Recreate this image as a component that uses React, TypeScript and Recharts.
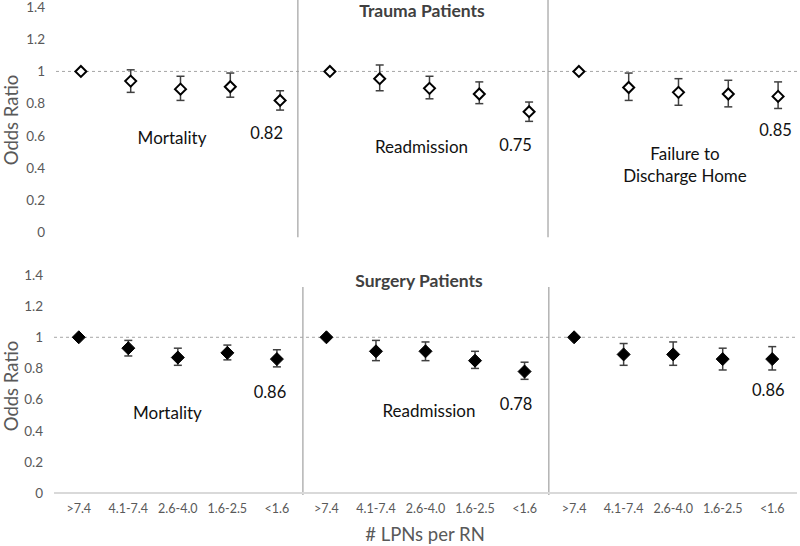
import React from 'react';
import { ComposedChart, Scatter, ErrorBar, XAxis, YAxis, ReferenceLine, ReferenceDot } from 'recharts';

const categories = ['>7.4', '4.1-7.4', '2.6-4.0', '1.6-2.5', '<1.6'];
const yTicks = [0, 0.2, 0.4, 0.6, 0.8, 1, 1.2, 1.4];

// Trauma patients: Mortality, Readmission, Failure to Discharge Home
const traumaOR = [1, 0.94, 0.89, 0.905, 0.82, 1, 0.955, 0.895, 0.86, 0.75, 1, 0.9, 0.87, 0.86, 0.845];
const traumaLow = [null, 0.87, 0.82, 0.84, 0.76, null, 0.88, 0.83, 0.8, 0.69, null, 0.82, 0.79, 0.78, 0.77];
const traumaHigh = [null, 1.01, 0.97, 0.99, 0.88, null, 1.04, 0.97, 0.935, 0.81, null, 0.99, 0.955, 0.945, 0.935];

// Surgery patients
const surgeryOR = [1, 0.93, 0.87, 0.9, 0.86, 1, 0.91, 0.91, 0.85, 0.78, 1, 0.89, 0.89, 0.86, 0.86];
const surgeryLow = [null, 0.88, 0.82, 0.855, 0.81, null, 0.85, 0.85, 0.8, 0.73, null, 0.82, 0.82, 0.79, 0.79];
const surgeryHigh = [null, 0.98, 0.93, 0.95, 0.92, null, 0.98, 0.97, 0.91, 0.84, null, 0.96, 0.97, 0.93, 0.94];

const traumaNotes = [
  { text: 'Mortality', x: 2.83, y: 0.587, word: true },
  { text: '0.82', x: 4.73, y: 0.617, word: false },
  { text: 'Readmission', x: 7.84, y: 0.532, word: true },
  { text: '0.75', x: 9.73, y: 0.544, word: false },
  { text: 'Failure to', x: 13.13, y: 0.489, word: true },
  { text: 'Discharge Home', x: 13.13, y: 0.355, word: true },
  { text: '0.85', x: 14.95, y: 0.636, word: false },
];
const surgeryNotes = [
  { text: 'Mortality', x: 2.79, y: 0.516, word: true },
  { text: '0.86', x: 4.86, y: 0.651, word: false },
  { text: 'Readmission', x: 8.07, y: 0.533, word: true },
  { text: '0.78', x: 9.83, y: 0.572, word: false },
  { text: '0.86', x: 14.92, y: 0.662, word: false },
];

const FONT = 'Lato, "Open Sans", sans-serif';

function buildRows(or: number[], lo: (number | null)[], hi: (number | null)[]) {
  return or.map((v, i) => ({
    x: i + 1,
    or: v,
    err: lo[i] == null || hi[i] == null ? null : [v - (lo[i] as number), (hi[i] as number) - v],
  }));
}

const traumaRows = buildRows(traumaOR, traumaLow, traumaHigh);
const surgeryRows = buildRows(surgeryOR, surgeryLow, surgeryHigh);

const fmt = (v: number) => (v === 0 ? '0' : v === 1 ? '1' : v.toFixed(1));

const makeDiamond = (filled: boolean) => (props: any) => {
  const { cx, cy } = props;
  if (cx == null || cy == null) return <g />;
  const r = filled ? 6.5 : 5.5;
  return (
    <path
      d={`M${cx},${cy - r}L${cx + r},${cy}L${cx},${cy + r}L${cx - r},${cy}Z`}
      fill={filled ? '#000' : '#fff'}
      stroke="#000"
      strokeWidth={filled ? 1 : 2}
    />
  );
};

const noteShape = (text: string, word: boolean) => (props: any) => (
  <text
    x={props.cx}
    y={props.cy}
    textAnchor="middle"
    dominantBaseline="central"
    fontFamily={FONT}
    fontSize={word ? 17 : 16.5}
    fill="#111"
  >
    {text}
  </text>
);

const titleStyle: React.CSSProperties = {
  position: 'absolute', width: 200, textAlign: 'center', fontFamily: FONT, fontWeight: 700,
  fontSize: 17.5, color: '#404040', lineHeight: '20px',
};

const yTitleStyle: React.CSSProperties = {
  position: 'absolute', left: -60, top: -11, width: 120, textAlign: 'center', transform: 'rotate(-90deg)',
  fontFamily: FONT, fontSize: 18.5, color: '#595959', lineHeight: '22px', whiteSpace: 'nowrap',
};

export default function App() {
  return (
    <div style={{ position: 'absolute', left: 0, top: 0, width: 800, height: 546, background: '#fff', overflow: 'hidden' }}>
      <div style={{ position: 'absolute', left: 0, top: 0 }}>
        <ComposedChart width={800} height={240} data={traumaRows} margin={{ top: 7, right: 0, bottom: 7.5, left: 0 }}>
          <XAxis type="number" dataKey="x" domain={[0.5, 15.44]} hide />
          <YAxis
            type="number"
            domain={[0, 1.4]}
            ticks={yTicks}
            tickFormatter={fmt}
            width={56}
            axisLine={false}
            tickLine={false}
            tickMargin={5}
            tick={{ fill: '#595959', fontSize: 13.5, fontFamily: FONT }}
            interval={0}
          />
          <ReferenceLine y={1} stroke="#a6a6a6" strokeDasharray="3 3" />
          <ReferenceLine
            segment={[{ x: 5.357, y: -0.03 }, { x: 5.357, y: 1.46 }]}
            stroke="#a0a0a0"
            strokeWidth={1.2}
            ifOverflow="visible"
          />
          <ReferenceLine
            segment={[{ x: 10.38, y: -0.03 }, { x: 10.38, y: 1.46 }]}
            stroke="#a0a0a0"
            strokeWidth={1.2}
            ifOverflow="visible"
          />
          <Scatter dataKey="or" shape={makeDiamond(false)} isAnimationActive={false}>
            <ErrorBar dataKey="err" direction="y" width={4} stroke="#404040" strokeWidth={1.5} />
          </Scatter>
          {traumaNotes.map((n, i) => (
            <ReferenceDot key={i} x={n.x} y={n.y} r={0} shape={noteShape(n.text, n.word)} ifOverflow="visible" />
          ))}
        </ComposedChart>
      </div>
      <div style={{ position: 'absolute', left: 0, top: 260 }}>
        <ComposedChart width={800} height={286} data={surgeryRows} margin={{ top: 15, right: 3, bottom: 23, left: 0 }}>
          <XAxis
            type="number"
            dataKey="x"
            domain={[0.5, 15.5]}
            ticks={[1, 2, 3, 4, 5, 6, 7, 8, 9, 10, 11, 12, 13, 14, 15]}
            tickFormatter={(v: number) => categories[(v - 1) % 5]}
            interval={0}
            height={30}
            axisLine={{ stroke: '#d9d9d9', strokeWidth: 2 }}
            tickLine={false}
            tickMargin={5}
            tick={{ fill: '#595959', fontSize: 12.5, fontFamily: FONT }}
          />
          <YAxis
            type="number"
            domain={[0, 1.4]}
            ticks={yTicks}
            tickFormatter={fmt}
            width={54}
            axisLine={false}
            tickLine={false}
            tickMargin={5}
            tick={{ fill: '#595959', fontSize: 13.5, fontFamily: FONT }}
            interval={0}
          />
          <ReferenceLine y={1} stroke="#a6a6a6" strokeDasharray="3 3" />
          <ReferenceLine
            segment={[{ x: 5.525, y: -0.013 }, { x: 5.525, y: 1.323 }]}
            stroke="#a0a0a0"
            strokeWidth={1.2}
            ifOverflow="visible"
          />
          <ReferenceLine
            segment={[{ x: 10.49, y: -0.013 }, { x: 10.49, y: 1.323 }]}
            stroke="#a0a0a0"
            strokeWidth={1.2}
            ifOverflow="visible"
          />
          <Scatter dataKey="or" shape={makeDiamond(true)} isAnimationActive={false}>
            <ErrorBar dataKey="err" direction="y" width={4} stroke="#404040" strokeWidth={1.5} />
          </Scatter>
          {surgeryNotes.map((n, i) => (
            <ReferenceDot key={i} x={n.x} y={n.y} r={0} shape={noteShape(n.text, n.word)} ifOverflow="visible" />
          ))}
        </ComposedChart>
      </div>
      <div style={{ ...titleStyle, left: 322, top: 1 }}>Trauma Patients</div>
      <div style={{ ...titleStyle, left: 319, top: 271 }}>Surgery Patients</div>
      <div style={{ position: 'absolute', left: 11, top: 120, width: 0, height: 0 }}>
        <div style={yTitleStyle}>Odds Ratio</div>
      </div>
      <div style={{ position: 'absolute', left: 11, top: 386, width: 0, height: 0 }}>
        <div style={yTitleStyle}>Odds Ratio</div>
      </div>
      <div style={{ position: 'absolute', left: 325, top: 524, width: 200, textAlign: 'center', fontFamily: FONT, fontSize: 18.5, color: '#595959', lineHeight: '21px' }}>
        # LPNs per RN
      </div>
    </div>
  );
}
